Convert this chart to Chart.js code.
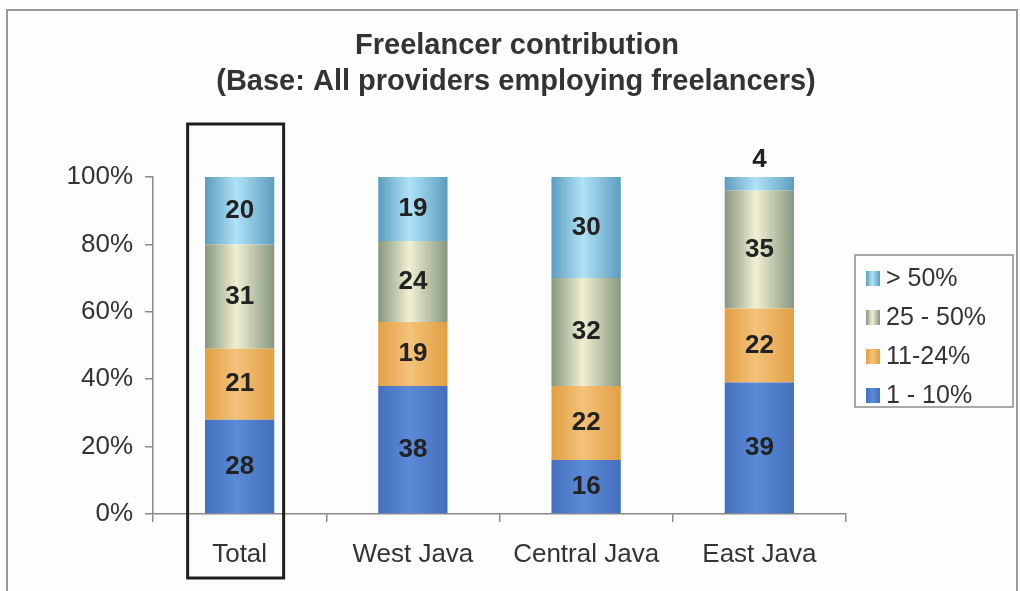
<!DOCTYPE html>
<html>
<head>
<meta charset="utf-8">
<script src="https://cdn.jsdelivr.net/npm/chart.js@4"></script>
<style>
  html, body { margin: 0; padding: 0; background: #fdfdfd; }
  #chart { display: block; }
</style>
</head>
<body>
<canvas id="chart" width="1020" height="591"></canvas>
<script>
const categories = ['Total', 'West Java', 'Central Java', 'East Java'];
const share1to10 = [28, 38, 16, 39];
const share11to24 = [21, 19, 22, 22];
const share25to50 = [31, 24, 32, 35];
const shareOver50 = [20, 19, 30, 4];
const seriesLabels = ['1 - 10%', '11-24%', '25 - 50%', '> 50%'];
const yTicks = [0, 20, 40, 60, 80, 100];

const FONT = "'Liberation Sans', Arial, sans-serif";
const TEXT = '#333';
const BAR_PCT = 0.4;

// edge / highlight colours for the cylinder shading of each series
const shades = [
  { edge: '#4470bd', mid: '#5b8ad6' },
  { edge: '#e29f43', mid: '#f3c27a' },
  { edge: '#86977f', mid: '#f1efd2' },
  { edge: '#5b9dbf', mid: '#b1e2f6' }
];

function cylinder(ctx, x0, x1, s) {
  const g = ctx.createLinearGradient(x0, 0, x1, 0);
  g.addColorStop(0, s.edge);
  g.addColorStop(0.45, s.mid);
  g.addColorStop(1, s.edge);
  return g;
}

function barFill(i) {
  return (c) => {
    const chart = c.chart;
    if (!chart.chartArea || c.type !== 'data') return shades[i].edge;
    const xs = chart.scales.x;
    const cx = xs.getPixelForValue(c.dataIndex);
    const w = xs.width / categories.length * BAR_PCT;
    return cylinder(chart.ctx, cx - w / 2, cx + w / 2, shades[i]);
  };
}

const seriesValues = [share1to10, share11to24, share25to50, shareOver50];

const datasets = seriesValues.map((values, i) => ({
  label: seriesLabels[i],
  data: values,
  backgroundColor: barFill(i),
  borderWidth: 0,
  categoryPercentage: 1,
  barPercentage: BAR_PCT
}));

// title, frame, value labels, highlight box and legend
const decorations = {
  id: 'decorations',
  afterDatasetsDraw(chart) {
    const ctx = chart.ctx;
    ctx.save();
    ctx.font = 'bold 26px ' + FONT;
    ctx.fillStyle = '#222';
    ctx.textAlign = 'center';
    ctx.textBaseline = 'middle';
    chart.data.datasets.forEach((ds, di) => {
      chart.getDatasetMeta(di).data.forEach((bar, i) => {
        const v = ds.data[i];
        const y = v < 8 ? bar.y - 17 : (bar.y + bar.base) / 2;
        ctx.fillText(String(v), bar.x, y);
      });
    });
    ctx.restore();
  },
  afterDraw(chart) {
    const ctx = chart.ctx;
    ctx.save();

    // outer frame
    ctx.strokeStyle = '#9a9a9a';
    ctx.lineWidth = 2;
    ctx.strokeRect(7, 10, 1010, 600);

    // titles
    ctx.fillStyle = TEXT;
    ctx.textAlign = 'center';
    ctx.textBaseline = 'middle';
    ctx.font = 'bold 29px ' + FONT;
    ctx.fillText('Freelancer contribution', 517, 46);
    ctx.fillText('(Base: All providers employing freelancers)', 516, 82);

    // box around the Total column
    const xs = chart.scales.x;
    const cx = xs.getPixelForValue(0) - 4;
    ctx.strokeStyle = '#1e1e1e';
    ctx.lineWidth = 3;
    ctx.strokeRect(cx - 48, 124, 96, 454);

    // legend
    ctx.strokeStyle = '#8c8c8c';
    ctx.lineWidth = 1.5;
    ctx.strokeRect(855, 255, 158, 152);
    ctx.font = '25px ' + FONT;
    ctx.textAlign = 'left';
    const rows = chart.data.datasets.map((d, i) => i).reverse();
    rows.forEach((di, r) => {
      const y = 278 + r * 39;
      ctx.fillStyle = cylinder(ctx, 866, 880, shades[di]);
      ctx.fillRect(866, y - 7, 14, 15);
      ctx.fillStyle = TEXT;
      ctx.fillText(chart.data.datasets[di].label, 886, y + 1);
    });
    ctx.restore();
  }
};

new Chart(document.getElementById('chart'), {
  type: 'bar',
  data: { labels: categories, datasets: datasets },
  options: {
    responsive: false,
    animation: false,
    layout: { padding: { top: 177, right: 174, left: 0, bottom: 0 } },
    plugins: {
      legend: { display: false },
      tooltip: { enabled: false },
      title: { display: false }
    },
    scales: {
      x: {
        stacked: true,
        afterFit: (s) => { s.height = 77; },
        border: { display: true, color: '#8a8a8a', width: 1.5 },
        grid: { display: true, offset: true, drawOnChartArea: false, drawTicks: true, tickLength: 8, color: '#8a8a8a', lineWidth: 1.5 },
        ticks: { color: TEXT, padding: 17, font: { family: FONT, size: 26 } }
      },
      y: {
        stacked: true,
        min: 0,
        max: 100,
        afterFit: (s) => { s.width = 153; },
        afterBuildTicks: (s) => { s.ticks = yTicks.map(v => ({ value: v })); },
        border: { display: true, color: '#8a8a8a', width: 1.5 },
        grid: { display: true, drawOnChartArea: false, drawTicks: true, tickLength: 8, color: '#8a8a8a', lineWidth: 1.5 },
        ticks: {
          color: TEXT,
          padding: 12,
          font: { family: FONT, size: 26 },
          callback: (v) => v + '%'
        }
      }
    }
  },
  plugins: [decorations]
});
</script>
</body>
</html>
